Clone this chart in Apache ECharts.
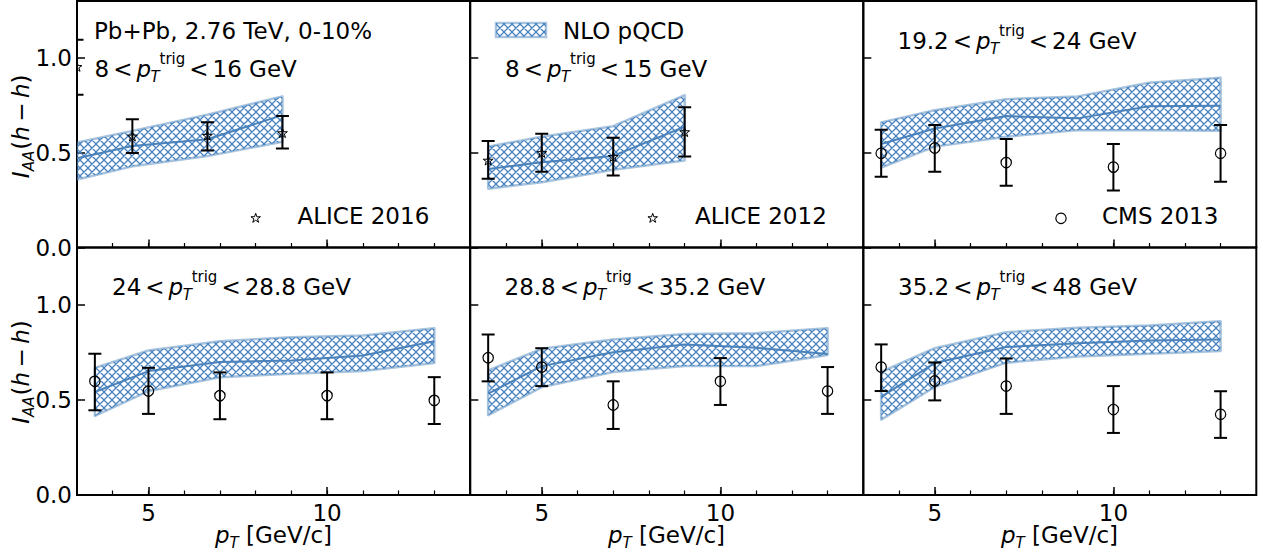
<!DOCTYPE html>
<html>
<head>
<meta charset="utf-8">
<script src="https://cdn.jsdelivr.net/npm/echarts@6/dist/echarts.min.js"></script>
<style>
html,body{margin:0;padding:0;background:#fff;}
#chart{width:1262px;height:557px;}
</style>
</head>
<body>
<div id="chart"></div>
<script>
// ---------------- data ----------------
const xMajorTicks = [5, 10];
const xMinorTicks = [4, 5, 6, 7, 8, 9, 10, 11, 12, 13];
const yMajorTicks = [0, 0.5, 1.0];

// Panel 1 : ALICE 2016, 8 < pT trig < 16 GeV
const alice2016X  = [3.0, 4.55, 6.65, 8.75];
const alice2016Y  = [0.951, 0.584, 0.588, 0.602];
const alice2016Lo = [0.806, 0.499, 0.511, 0.522];
const alice2016Hi = [1.096, 0.677, 0.661, 0.693];
const nlo1X   = [3.0, 4.55, 6.65, 8.75];
const nlo1Mid = [0.471, 0.535, 0.571, 0.698];
const nlo1Lo  = [0.358, 0.428, 0.482, 0.558];
const nlo1Hi  = [0.553, 0.615, 0.700, 0.797];

// Panel 2 : ALICE 2012, 8 < pT trig < 15 GeV
const alice2012X  = [3.5, 5, 7, 9];
const alice2012Y  = [0.457, 0.497, 0.476, 0.607];
const alice2012Lo = [0.363, 0.399, 0.380, 0.480];
const alice2012Hi = [0.562, 0.600, 0.579, 0.740];
const nlo2X   = [3.5, 5, 7, 9];
const nlo2Mid = [0.414, 0.450, 0.483, 0.637];
const nlo2Lo  = [0.310, 0.344, 0.410, 0.459];
const nlo2Hi  = [0.532, 0.584, 0.640, 0.803];

// CMS 2013 panels share x values, NLO curves share x values
const cmsX = [3.5, 5, 7, 10, 13];
const nloX = [3.5, 5, 7, 9, 11, 13];

// Panel 3 : 19.2 < pT trig < 24 GeV
const cms3Y  = [0.497, 0.525, 0.448, 0.424, 0.497];
const cms3Lo = [0.373, 0.399, 0.326, 0.300, 0.347];
const cms3Hi = [0.621, 0.646, 0.572, 0.546, 0.646];
const nlo3Mid = [0.546, 0.628, 0.693, 0.681, 0.745, 0.747];
const nlo3Lo  = [0.422, 0.532, 0.584, 0.619, 0.619, 0.616];
const nlo3Hi  = [0.660, 0.724, 0.782, 0.797, 0.869, 0.895];

// Panel 4 : 24 < pT trig < 28.8 GeV
const cms4Y  = [0.597, 0.546, 0.522, 0.522, 0.497];
const cms4Lo = [0.445, 0.426, 0.398, 0.398, 0.373];
const cms4Hi = [0.742, 0.668, 0.644, 0.644, 0.619];
const nlo4Mid = [0.541, 0.651, 0.698, 0.707, 0.733, 0.808];
const nlo4Lo  = [0.415, 0.546, 0.619, 0.637, 0.651, 0.693];
const nlo4Hi  = [0.668, 0.759, 0.808, 0.829, 0.838, 0.876];

// Panel 5 : 28.8 < pT trig < 35.2 GeV
const cms5Y  = [0.721, 0.672, 0.473, 0.597, 0.546];
const cms5Lo = [0.597, 0.572, 0.347, 0.473, 0.426];
const cms5Hi = [0.843, 0.771, 0.597, 0.719, 0.672];
const nlo5Mid = [0.532, 0.677, 0.750, 0.791, 0.773, 0.740];
const nlo5Lo  = [0.419, 0.567, 0.646, 0.677, 0.677, 0.735];
const nlo5Hi  = [0.654, 0.768, 0.817, 0.846, 0.850, 0.876];

// Panel 6 : 35.2 < pT trig < 48 GeV
const cms6Y  = [0.672, 0.599, 0.572, 0.449, 0.424];
const cms6Lo = [0.546, 0.497, 0.426, 0.326, 0.300];
const cms6Hi = [0.791, 0.696, 0.717, 0.572, 0.545];
const nlo6Mid = [0.515, 0.693, 0.777, 0.797, 0.812, 0.817];
const nlo6Lo  = [0.396, 0.567, 0.695, 0.728, 0.742, 0.756];
const nlo6Hi  = [0.646, 0.771, 0.855, 0.878, 0.890, 0.913];

const trigRanges = [['8', '16'], ['8', '15'], ['19.2', '24'], ['24', '28.8'], ['28.8', '35.2'], ['35.2', '48']];
const dataLabels = ['ALICE 2016', 'ALICE 2012', 'CMS 2013'];
const headerText = 'Pb+Pb, 2.76 TeV, 0-10%';
const bandLabel = 'NLO pQCD';

// ---------------- styling / layout ----------------
const FONT = 'DejaVu Sans';
const FS = 23, SFS = 15;
const HATCH = '#4580bf';
const EDGE = 'rgba(80,135,190,0.5)';
const LINE = '#4a82bb';

const colLeft = [77, 470.3, 863.3], colW = 393;
const rowTop = [1, 247.5], rowH = [246.5, 247.5];

function makeHatch() {
  const P = 8;
  const c = document.createElement('canvas');
  c.width = P; c.height = P;
  const ctx = c.getContext('2d');
  ctx.strokeStyle = HATCH;
  ctx.lineWidth = 1.25;
  ctx.beginPath();
  for (let s = -P; s <= P; s += P) {
    ctx.moveTo(s - 1, -1); ctx.lineTo(s + P + 1, P + 1);
    ctx.moveTo(s + P + 1, -1); ctx.lineTo(s - 1, P + 1);
  }
  ctx.stroke();
  return c;
}
const hatchCanvas = makeHatch();
const hatchPattern = { image: hatchCanvas, repeat: 'repeat' };

const mctx = document.createElement('canvas').getContext('2d');
function tw(s, it, size) {
  mctx.font = (it ? 'italic ' : '') + size + 'px "' + FONT + '"';
  return mctx.measureText(s).width;
}
function T(s, x, y, it, size) {
  return {
    type: 'text', x: x, y: y, silent: true, z: 100,
    style: { text: s, fontFamily: FONT, fontSize: size, fontStyle: it ? 'italic' : 'normal',
             lineHeight: Math.round(size * 0.72), fill: '#000', align: 'left', verticalAlign: 'middle' }
  };
}
function trigLabel(x0, yc, a, b) {
  const els = []; let x = x0; const g = 4;
  els.push(T(a, x, yc, false, FS)); x += tw(a, false, FS) + g;
  els.push(T('<', x, yc, false, FS)); x += tw('<', false, FS) + g;
  els.push(T('p', x, yc, true, FS)); x += tw('p', true, FS);
  els.push(T('T', x - 0.5, yc + 8, true, SFS));
  els.push(T('trig', x + 8.5, yc - 10, false, SFS));
  x += 8.5 + tw('trig', false, SFS) + g;
  els.push(T('<', x, yc, false, FS)); x += tw('<', false, FS) + g;
  els.push(T(b + ' GeV', x, yc, false, FS));
  return els;
}
function yLabel(cx, cy) {
  const parts = [];
  let x = 0;
  parts.push(['I', x, 0, true, FS]); x += tw('I', true, FS);
  parts.push(['AA', x, 7.5, true, SFS]); x += tw('AA', true, SFS) + 1;
  parts.push(['(', x, 0, false, FS]); x += tw('(', false, FS);
  parts.push(['h', x, 0, true, FS]); x += tw('h', true, FS) + 4.5;
  parts.push(['\u2212', x, 0, false, FS]); x += tw('\u2212', false, FS) + 4.5;
  parts.push(['h', x, 0, true, FS]); x += tw('h', true, FS);
  parts.push([')', x, 0, false, FS]); x += tw(')', false, FS);
  const W = x;
  return {
    type: 'group', x: cx, y: cy, rotation: Math.PI / 2, silent: true, z: 100,
    children: parts.map(p => T(p[0], p[1] - W / 2, p[2], p[3], p[4]))
  };
}
function xLabel(cx, yc) {
  const tail = ' [GeV/c]';
  const W = tw('p', true, FS) + tw('T', true, SFS) + tw(tail, false, FS);
  let x = cx - W / 2;
  const els = [];
  els.push(T('p', x, yc, true, FS)); x += tw('p', true, FS);
  els.push(T('T', x, yc + 7.5, true, SFS)); x += tw('T', true, SFS);
  els.push(T(tail, x, yc, false, FS));
  return els;
}
function starPts(cx, cy, R) {
  const r = R * 0.381966, pts = [];
  for (let k = 0; k < 10; k++) {
    const a = -Math.PI / 2 + k * Math.PI / 5, rr = (k % 2) ? r : R;
    pts.push([cx + rr * Math.cos(a), cy + rr * Math.sin(a)]);
  }
  return pts;
}

// ---------------- panels ----------------
const panels = [
  { bx: nlo1X, bm: nlo1Mid, bl: nlo1Lo, bh: nlo1Hi, dx: alice2016X, dy: alice2016Y, dl: alice2016Lo, dh: alice2016Hi, mk: 'star' },
  { bx: nlo2X, bm: nlo2Mid, bl: nlo2Lo, bh: nlo2Hi, dx: alice2012X, dy: alice2012Y, dl: alice2012Lo, dh: alice2012Hi, mk: 'star' },
  { bx: nloX, bm: nlo3Mid, bl: nlo3Lo, bh: nlo3Hi, dx: cmsX, dy: cms3Y, dl: cms3Lo, dh: cms3Hi, mk: 'circle' },
  { bx: nloX, bm: nlo4Mid, bl: nlo4Lo, bh: nlo4Hi, dx: cmsX, dy: cms4Y, dl: cms4Lo, dh: cms4Hi, mk: 'circle' },
  { bx: nloX, bm: nlo5Mid, bl: nlo5Lo, bh: nlo5Hi, dx: cmsX, dy: cms5Y, dl: cms5Lo, dh: cms5Hi, mk: 'circle' },
  { bx: nloX, bm: nlo6Mid, bl: nlo6Lo, bh: nlo6Hi, dx: cmsX, dy: cms6Y, dl: cms6Lo, dh: cms6Hi, mk: 'circle' }
];

const grids = [], xAxes = [], yAxes = [], series = [];
const labelStyle = { fontFamily: FONT, fontSize: FS, color: '#000' };

panels.forEach((p, i) => {
  const r = Math.floor(i / 3), c = i % 3;
  grids.push({ left: colLeft[c], top: rowTop[r], width: colW, height: rowH[r],
               show: true, borderColor: '#000', borderWidth: 2, backgroundColor: 'transparent', containLabel: false });
  xAxes.push({
    gridIndex: i, type: 'value', min: 3, max: 14, position: 'bottom',
    axisLine: { show: false }, splitLine: { show: false },
    axisTick: { show: true, inside: true, length: 8, customValues: xMajorTicks, lineStyle: { color: '#000', width: 1.5 } },
    axisLabel: Object.assign({ show: r === 1, customValues: xMajorTicks, margin: 9.5, lineHeight: 16 }, labelStyle)
  });
  xAxes.push({
    gridIndex: i, type: 'value', min: 3, max: 14, position: 'bottom',
    axisLine: { show: false }, splitLine: { show: false }, axisLabel: { show: false },
    axisTick: { show: true, inside: true, length: 4.5, customValues: xMinorTicks, lineStyle: { color: '#000', width: 1.2 } }
  });
  yAxes.push({
    gridIndex: i, type: 'value', min: 0, max: 1.3,
    axisLine: { show: false }, splitLine: { show: false },
    axisTick: { show: true, inside: true, length: 8, customValues: yMajorTicks, lineStyle: { color: '#000', width: 1.5 } },
    axisLabel: Object.assign({ show: c === 0, customValues: yMajorTicks, margin: 5, lineHeight: 16, formatter: v => v.toFixed(1) }, labelStyle)
  });

  const xi = i * 2, yi = i;
  // band
  series.push({
    type: 'custom', xAxisIndex: xi, yAxisIndex: yi, clip: true, z: 1, silent: true,
    data: p.bx.map((x, k) => [x, p.bl[k], p.bh[k]]),
    renderItem: function (params, api) {
      if (params.dataIndexInside !== 0) return null;
      const n = params.dataInsideLength;
      const up = [], dn = [];
      for (let k = 0; k < n; k++) {
        up.push(api.coord([api.value(0, k), api.value(2, k)]));
        dn.push(api.coord([api.value(0, k), api.value(1, k)]));
      }
      return { type: 'polygon', shape: { points: up.concat(dn.reverse()) },
               style: { fill: hatchPattern, stroke: EDGE, lineWidth: 2.5, lineJoin: 'round' } };
    }
  });
  // central line
  series.push({
    type: 'line', xAxisIndex: xi, yAxisIndex: yi, z: 2, silent: true, showSymbol: false,
    data: p.bx.map((x, k) => [x, p.bm[k]]),
    lineStyle: { color: LINE, width: 2 }, animation: false
  });
  // error bars
  series.push({
    type: 'custom', xAxisIndex: xi, yAxisIndex: yi, clip: true, z: 3, silent: true,
    data: p.dx.map((x, k) => [x, p.dy[k], p.dl[k], p.dh[k]]),
    renderItem: function (params, api) {
      const lo = api.coord([api.value(0), api.value(2)]);
      const hi = api.coord([api.value(0), api.value(3)]);
      const w = 6.5, st = { stroke: '#000', lineWidth: 2 };
      return { type: 'group', children: [
        { type: 'line', shape: { x1: lo[0], y1: lo[1], x2: hi[0], y2: hi[1] }, style: st },
        { type: 'line', shape: { x1: lo[0] - w, y1: lo[1], x2: lo[0] + w, y2: lo[1] }, style: st },
        { type: 'line', shape: { x1: hi[0] - w, y1: hi[1], x2: hi[0] + w, y2: hi[1] }, style: st }
      ] };
    }
  });
  // markers
  series.push({
    type: 'custom', xAxisIndex: xi, yAxisIndex: yi, clip: true, z: 4, silent: true,
    data: p.dx.map((x, k) => [x, p.dy[k]]),
    renderItem: function (params, api) {
      const pt = api.coord([api.value(0), api.value(1)]);
      if (p.mk === 'star') {
        return { type: 'polygon', shape: { points: starPts(pt[0], pt[1], 5.2) },
                 style: { fill: 'none', stroke: '#000', lineWidth: 1 } };
      }
      return { type: 'circle', shape: { cx: pt[0], cy: pt[1], r: 5.2 },
               style: { fill: 'none', stroke: '#000', lineWidth: 1.2 } };
    }
  });
});

// ---------------- annotations ----------------
const graphic = [];
graphic.push(T(headerText, 94, 30.5, false, FS));
const trigPos = [[94.5, 68.5], [505, 68.5], [897.5, 40.5], [112, 287], [504.5, 287], [898, 287]];
trigRanges.forEach((tr, i) => { trigLabel(trigPos[i][0], trigPos[i][1], tr[0], tr[1]).forEach(e => graphic.push(e)); });

// in-panel legends
graphic.push({ type: 'polygon', z: 100, silent: true, shape: { points: starPts(255.7, 218.3, 5) }, style: { fill: 'none', stroke: '#000', lineWidth: 1 } });
graphic.push(T(dataLabels[0], 297.5, 215.7, false, FS));
graphic.push({ type: 'polygon', z: 100, silent: true, shape: { points: starPts(652.7, 218.3, 5) }, style: { fill: 'none', stroke: '#000', lineWidth: 1 } });
graphic.push(T(dataLabels[1], 695, 215.7, false, FS));
graphic.push({ type: 'circle', z: 100, silent: true, shape: { cx: 1061, cy: 218.3, r: 5.2 }, style: { fill: 'none', stroke: '#000', lineWidth: 1.2 } });
graphic.push(T(dataLabels[2], 1102, 215.7, false, FS));
graphic.push({ type: 'rect', z: 100, silent: true, shape: { x: 496, y: 23, width: 50, height: 14 }, style: { fill: hatchPattern, stroke: EDGE, lineWidth: 2.5 } });
graphic.push(T(bandLabel, 563, 30.5, false, FS));

// axis titles
graphic.push(yLabel(21, 126.3));
graphic.push(yLabel(21, 372));
[273.5, 666.5, 1059.5].forEach(cx => xLabel(cx, 535).forEach(e => graphic.push(e)));

const chart = echarts.init(document.getElementById('chart'), null, { renderer: 'svg', width: 1262, height: 557 });
chart.setOption({
  animation: false,
  backgroundColor: '#fff',
  grid: grids, xAxis: xAxes, yAxis: yAxes, series: series, graphic: graphic
});
</script>
</body>
</html>
